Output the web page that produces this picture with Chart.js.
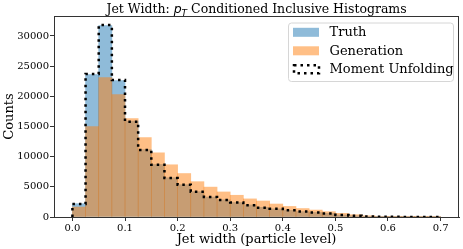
<!doctype html>
<html>
<head>
    <title>Jet Width</title>
    <script src="https://cdn.jsdelivr.net/npm/chart.js@4/dist/chart.umd.min.js"></script>
    <style>
        html, body { margin: 0; padding: 0; background: #fff; }
        #wrap { width: 463px; height: 249px; }
    </style>
</head>
<body>
<div id="wrap"><canvas id="myChart" width="463" height="249"></canvas></div>
<script>
// histogram bin edges (jet width, particle level)
var binEdges = [0.0, 0.025, 0.05, 0.075, 0.1, 0.125, 0.15, 0.175, 0.2, 0.225, 0.25, 0.275, 0.3, 0.325,
    0.35, 0.375, 0.4, 0.425, 0.45, 0.475, 0.5, 0.525, 0.55, 0.575, 0.6, 0.625, 0.65, 0.675, 0.7];

var truthCounts = [2200, 23600, 31700, 22600, 15900, 11150, 8700, 6500, 5350, 4200, 3300, 2850, 2400, 2000,
    1600, 1350, 1100, 900, 750, 600, 340, 200, 100, 50, 30, 20, 10, 5];
var generationCounts = [1650, 15000, 23100, 20300, 16300, 13150, 10650, 8650, 7200, 5850, 4950, 4150, 3600, 3000,
    2650, 2150, 1750, 1400, 1150, 880, 600, 380, 200, 100, 50, 30, 15, 10];
var unfoldedCounts = [2150, 23700, 31800, 22700, 15800, 11100, 8650, 6450, 5350, 4200, 3300, 2800, 2400, 1950,
    1550, 1350, 1100, 900, 750, 600, 330, 200, 100, 50, 30, 20, 10, 5];

var xTicks = [0.0, 0.1, 0.2, 0.3, 0.4, 0.5, 0.6, 0.7];
var yTicks = [0, 5000, 10000, 15000, 20000, 25000, 30000];

var serif = "'DejaVu Serif', serif";

function barPoints(counts) {
    return counts.map(function(c, i) {
        return { x: (binEdges[i] + binEdges[i + 1]) / 2, y: c };
    });
}

function stepPoints(counts) {
    var pts = [{ x: binEdges[0], y: 0 }];
    counts.forEach(function(c, i) { pts.push({ x: binEdges[i], y: c }); });
    pts.push({ x: binEdges[binEdges.length - 1], y: 0 });
    return pts;
}

// title with italic p_T
var titlePlugin = {
    id: 'mplTitle',
    afterDraw: function(chart) {
        var ctx = chart.ctx, a = chart.chartArea;
        var parts = [
            { t: 'Jet Width: ', f: '12.5px ' + serif, dy: 0 },
            { t: 'p', f: 'italic 12.5px "DejaVu Sans"', dy: 0 },
            { t: 'T', f: 'italic 9px "DejaVu Sans"', dy: 2.5 },
            { t: ' Conditioned Inclusive Histograms', f: '12.5px ' + serif, dy: 0 }
        ];
        ctx.save();
        var total = 0;
        parts.forEach(function(p) { ctx.font = p.f; p.w = ctx.measureText(p.t).width; total += p.w; });
        var x = (a.left + a.right) / 2 - total / 2;
        ctx.fillStyle = '#000';
        ctx.textBaseline = 'alphabetic';
        ctx.textAlign = 'left';
        parts.forEach(function(p) {
            ctx.font = p.f;
            ctx.fillText(p.t, x, 13 + p.dy);
            x += p.w;
        });
        ctx.restore();
    }
};

// axes frame and matplotlib-style legend
var framePlugin = {
    id: 'mplFrame',
    afterDraw: function(chart) {
        var ctx = chart.ctx, a = chart.chartArea;
        ctx.save();
        ctx.strokeStyle = '#333';
        ctx.lineWidth = 1;
        ctx.strokeRect(a.left + 0.5, a.top + 0.5, a.right - a.left - 1, a.bottom - a.top);

        // legend box
        var lx = 288, ly = 22.5, lw = 165, lh = 58.5;
        ctx.beginPath();
        ctx.roundRect(lx + 0.5, ly + 0.5, lw, lh, 3);
        ctx.fillStyle = 'rgba(255,255,255,0.8)';
        ctx.fill();
        ctx.strokeStyle = '#d6d6d6';
        ctx.stroke();

        var rows = [32.3, 50.8, 69.3];
        ctx.font = '13px ' + serif;
        ctx.textBaseline = 'middle';
        ctx.fillStyle = '#000';
        chart.data.datasets.forEach(function(ds, i) {
            var cy = rows[i];
            if (ds.type === 'line') {
                ctx.save();
                ctx.strokeStyle = ds.borderColor;
                ctx.lineWidth = ds.borderWidth;
                ctx.setLineDash(ds.borderDash);
                ctx.strokeRect(294, cy - 4, 25, 8);
                ctx.restore();
            } else {
                ctx.fillStyle = ds.backgroundColor;
                ctx.fillRect(293, cy - 4.5, 26, 9);
            }
            ctx.fillStyle = '#000';
            ctx.fillText(ds.label, 329.5, cy + 0.5);
        });
        ctx.restore();
    }
};

var ctx = document.getElementById('myChart').getContext('2d');
new Chart(ctx, {
    type: 'bar',
    data: {
        datasets: [
            {
                label: 'Truth',
                data: barPoints(truthCounts),
                backgroundColor: 'rgba(31,119,180,0.5)',
                borderWidth: 0,
                barPercentage: 1.0,
                categoryPercentage: 1.0,
                grouped: false,
                order: 3
            },
            {
                label: 'Generation',
                data: barPoints(generationCounts),
                backgroundColor: 'rgba(255,127,14,0.5)',
                borderWidth: 0,
                barPercentage: 1.0,
                categoryPercentage: 1.0,
                grouped: false,
                order: 2
            },
            {
                type: 'line',
                label: 'Moment Unfolding',
                data: stepPoints(unfoldedCounts),
                borderColor: '#000',
                backgroundColor: 'rgba(0,0,0,0)',
                borderWidth: 2.5,
                borderDash: [2.5, 4],
                stepped: 'before',
                fill: false,
                pointRadius: 0,
                order: 1
            }
        ]
    },
    options: {
        responsive: false,
        animation: false,
        layout: { padding: { left: 0, right: 4, top: 16, bottom: 0 } },
        plugins: {
            legend: { display: false },
            tooltip: { enabled: false },
            title: { display: false }
        },
        scales: {
            x: {
                type: 'linear',
                min: -0.035,
                max: 0.735,
                offset: false,
                afterBuildTicks: function(scale) {
                    scale.ticks = xTicks.map(function(v) { return { value: v }; });
                },
                afterFit: function(scale) { scale.height = 32; },
                ticks: {
                    font: { family: serif, size: 10 },
                    color: '#000',
                    padding: 1,
                    maxRotation: 0,
                    callback: function(v) { return v.toFixed(1); }
                },
                grid: { drawOnChartArea: false, drawTicks: true, tickLength: 4, color: '#333', offset: false },
                border: { display: true, color: '#333' },
                title: {
                    display: true,
                    text: 'Jet width (particle level)',
                    font: { family: serif, size: 13 },
                    color: '#000',
                    padding: { top: 0, bottom: 2 }
                }
            },
            y: {
                min: 0,
                max: 33300,
                afterBuildTicks: function(scale) {
                    scale.ticks = yTicks.map(function(v) { return { value: v }; });
                },
                afterFit: function(scale) { scale.width = 54; },
                ticks: {
                    font: { family: serif, size: 10 },
                    color: '#000',
                    padding: 1,
                    callback: function(v) { return String(v); }
                },
                grid: { drawOnChartArea: false, drawTicks: true, tickLength: 4, color: '#333' },
                border: { display: true, color: '#333' },
                title: {
                    display: true,
                    text: 'Counts',
                    font: { family: serif, size: 13 },
                    color: '#000',
                    padding: { top: 2, bottom: 0 }
                }
            }
        }
    },
    plugins: [titlePlugin, framePlugin]
});
</script>
</body>
</html>
